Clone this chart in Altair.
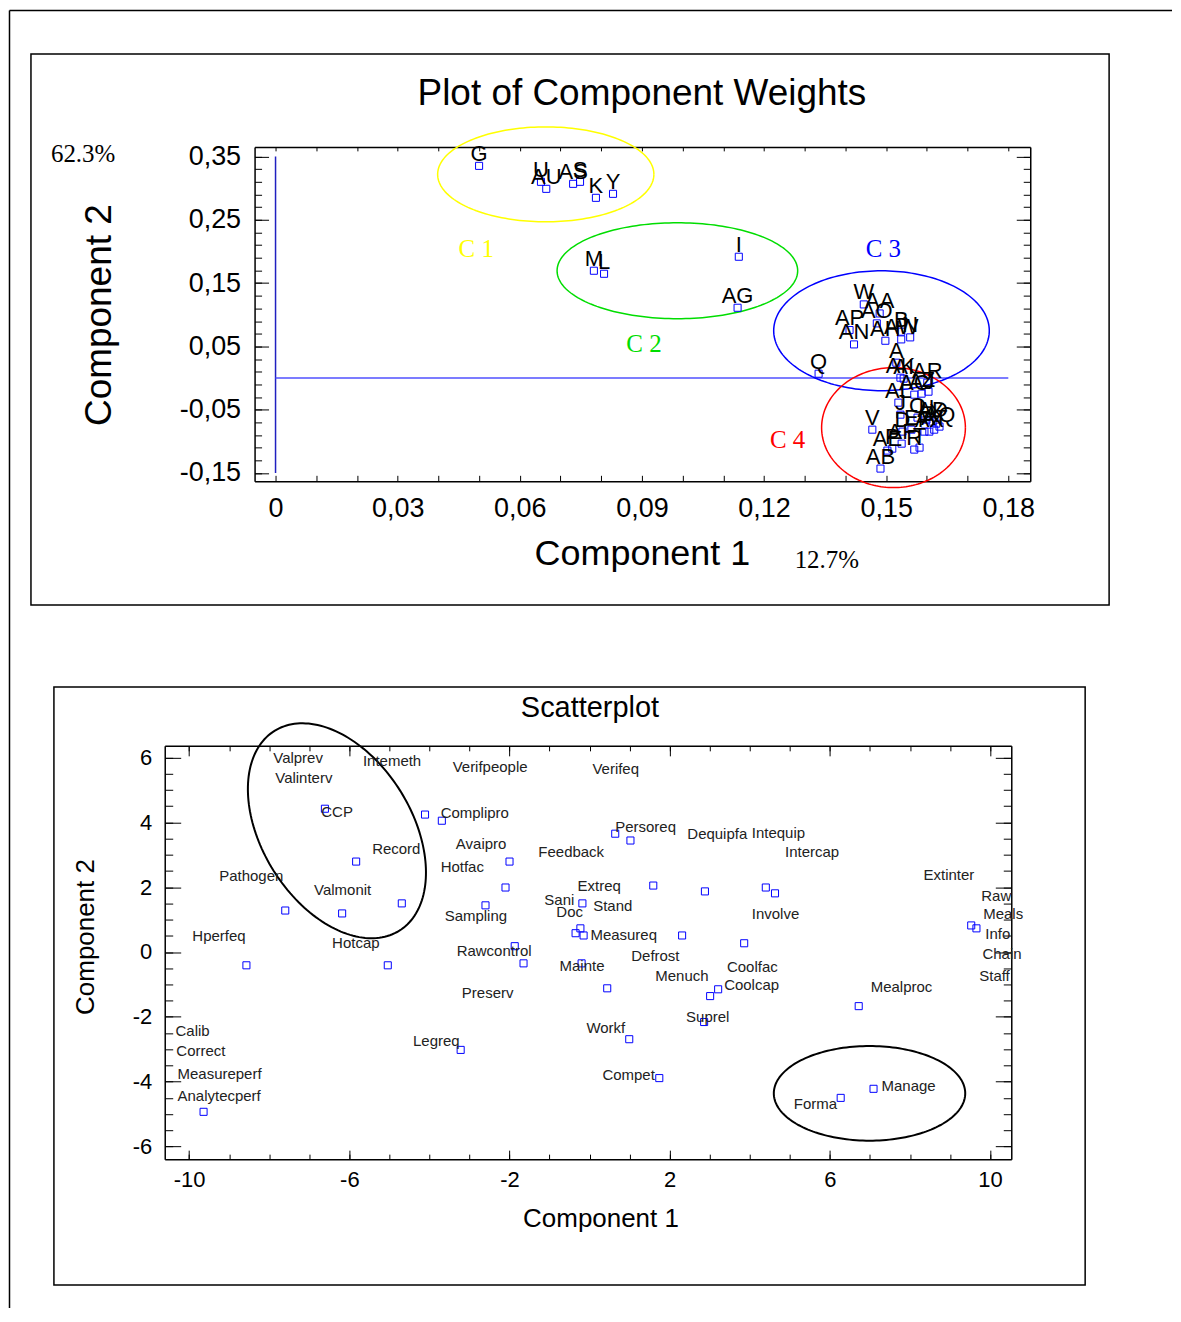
import numpy as np
import pandas as pd
import altair as alt

SANS = "Liberation Sans"
SERIF = "Liberation Serif"
BLUE = "#0000ff"

# ---------------- Plot of Component Weights (top) ----------------
w_names = ["G", "U", "AU", "AS", "S", "K", "Y", "M", "L", "I", "AG", "Q",
           "W", "AA", "AO", "AP", "AN", "AH", "B", "AW", "N",
           "A", "AK", "AI", "AR", "AL", "AC", "AJ", "Z", "J", "O", "H", "AD", "X", "AQ",
           "D", "E", "F", "AX", "AT", "V", "AF", "AE", "P", "R", "T", "AB"]
w_comp1 = [0.0500, 0.0652, 0.0665, 0.0731, 0.0748, 0.0787, 0.0829, 0.0782, 0.0807, 0.1138, 0.1135, 0.1334,
           0.1445, 0.1484, 0.1477, 0.1410, 0.1421, 0.1498, 0.1537, 0.1537, 0.1559,
           0.1525, 0.1535, 0.1543, 0.1601, 0.1530, 0.1569, 0.1587, 0.1604, 0.1535, 0.1577, 0.1599, 0.1614, 0.1623, 0.1631,
           0.1540, 0.1562, 0.1594, 0.1606, 0.1618, 0.1466, 0.1538, 0.1503, 0.1515, 0.1569, 0.1582, 0.1486]
w_comp2 = [0.3353, 0.3101, 0.2990, 0.3069, 0.3101, 0.2848, 0.2911, 0.1696, 0.1648, 0.1917, 0.1111, 0.0069,
           0.1164, 0.1021, 0.0864, 0.0759, 0.0532, 0.0590, 0.0733, 0.0611, 0.0643,
           0.0243, 0.0006, -0.0009, -0.0073, -0.0388, -0.0262, -0.0246, -0.0215, -0.0578, -0.0625, -0.0657, -0.0688, -0.0720, -0.0767,
           -0.0846, -0.0815, -0.0846, -0.0846, -0.0815, -0.0815, -0.1036, -0.1146, -0.1115, -0.1130, -0.1099, -0.1430]

cl_names = ["C 1", "C 2", "C 3", "C 4"]
cl_colors = ["#ffff00", "#00dd00", "#0000ff", "#ff0000"]
cl_label_x = [0.0493, 0.0905, 0.1493, 0.1258]
cl_label_y = [0.2043, 0.0543, 0.2043, -0.0973]
cl_cx = [0.06638, 0.09871, 0.14885, 0.1518]
cl_cy = [0.3219, 0.1696, 0.0748, -0.0783]
cl_rx = [0.02656, 0.02955, 0.02648, 0.01766]
cl_ry = [0.0750, 0.0758, 0.0947, 0.0947]

top_x_ticks = [0, 0.03, 0.06, 0.09, 0.12, 0.15, 0.18]
top_y_ticks = [-0.15, -0.05, 0.05, 0.15, 0.25, 0.35]
top_x_minor = [round(0.01 * i, 2) for i in range(19)]
top_y_minor = [round(-0.15 + 0.02 * i, 2) for i in range(26)]

# ---------------- Scatterplot (bottom) ----------------
s_comp1 = [-6.61, -4.11, -3.69, -5.83, -2.00, -2.10, -4.69, -2.60, -7.60, -6.18,
           -8.57, -5.04, -1.87, -1.65, 0.64, 1.02, 1.59, 2.88, 4.40, 4.63,
           -0.18, -0.23, -0.35, -0.15, -0.20, 2.31, 3.86, 0.44, 3.01, 3.21,
           2.86, 0.99, 1.74, -3.22, -9.64, 6.72, 6.27, 7.09, 9.53, 9.66]
s_comp2 = [4.42, 4.24, 4.05, 2.79, 2.79, 1.99, 1.50, 1.44, 1.28, 1.19,
           -0.41, -0.41, 0.18, -0.35, 3.65, 3.44, 2.05, 1.87, 1.99, 1.81,
           1.50, 0.73, 0.58, 0.51, -0.35, 0.51, 0.27, -1.12, -1.36, -1.15,
           -2.16, -2.69, -3.89, -3.02, -4.93, -1.67, -4.50, -4.22, 0.82, 0.73]

lab_names = ["Valprev", "Valinterv", "Intemeth", "Verifpeople", "Verifeq", "CCP", "Complipro",
             "Persoreq", "Dequipfa", "Intequip", "Record", "Avaipro", "Feedback", "Intercap",
             "Hotfac", "Pathogen", "Extinter", "Extreq", "Valmonit", "Raw", "Sani", "Stand",
             "Doc", "Involve", "Sampling", "Meals", "Info", "Hperfeq", "Measureq", "Hotcap",
             "Rawcontrol", "Chain", "Defrost", "Coolfac", "Mainte", "Menuch", "Staff", "Coolcap",
             "Mealproc", "Preserv", "Suprel", "Calib", "Workf", "Legreq", "Correct", "Compet",
             "Measureperf", "Manage", "Analytecperf", "Forma"]
lab_x = [-7.90, -7.85, -5.66, -3.42, 0.07, -6.70, -3.72,
         0.64, 2.44, 4.05, -5.43, -3.34, -1.28, 4.88,
         -3.72, -9.25, 8.34, -0.30, -6.88, 9.78, -1.13, 0.09,
         -0.83, 4.05, -3.62, 9.83, 9.88, -9.92, 0.02, -6.43,
         -3.32, 9.81, 1.04, 3.43, -0.75, 1.64, 9.73, 3.36,
         7.02, -3.19, 2.41, -10.34, -0.08, -4.41, -10.32, 0.32,
         -10.29, 7.29, -10.29, 5.10]
lab_y = [5.99, 5.38, 5.90, 5.71, 5.65, 4.33, 4.30,
         3.87, 3.65, 3.68, 3.19, 3.34, 3.10, 3.07,
         2.61, 2.36, 2.39, 2.05, 1.90, 1.74, 1.59, 1.41,
         1.22, 1.16, 1.10, 1.16, 0.54, 0.48, 0.51, 0.27,
         0.02, -0.07, -0.13, -0.47, -0.44, -0.75, -0.75, -1.02,
         -1.09, -1.27, -2.01, -2.44, -2.35, -2.75, -3.06, -3.79,
         -3.76, -4.13, -4.44, -4.69]

bot_x_ticks = [-10, -6, -2, 2, 6, 10]
bot_y_ticks = [-6, -4, -2, 0, 2, 4, 6]
bot_x_minor = list(range(-10, 11))
bot_y_minor = [-6 + 0.5 * i for i in range(25)]

# ---------------- geometry ----------------
TW, TH = 867, 335          # top panel area (plot frame spans x 90..867)
TX0 = 90
BW, BH = 848, 414
top_xdom = [-0.00515, 0.18539]
top_ydom = [-0.1631, 0.3653]
bot_xdom = [-10.61, 10.53]
bot_ydom = [-6.39, 6.36]

xs_top = alt.Scale(domain=top_xdom, range=[TX0, TW], zero=False, nice=False)
ys_top = alt.Scale(domain=top_ydom, zero=False, nice=False)
xs_bot = alt.Scale(domain=bot_xdom, zero=False, nice=False)
ys_bot = alt.Scale(domain=bot_ydom, zero=False, nice=False)


def ellipse(cx, cy, a_px, b_px, ang, kx, ky, n=181):
    t = np.linspace(0, 2 * np.pi, n)
    th = np.radians(ang)
    dxp = a_px * np.cos(t) * np.cos(th) - b_px * np.sin(t) * np.sin(th)
    dyp = a_px * np.cos(t) * np.sin(th) + b_px * np.sin(t) * np.cos(th)
    return cx + dxp / kx, cy - dyp / ky


def tick_axis(orient, offset, values, size, domain=False):
    return alt.Axis(orient=orient, offset=offset, values=values, tickSize=size,
                    tickColor="black", tickWidth=1, labels=False, domain=domain,
                    domainColor="black", domainWidth=1.5, grid=False, title=None)


def carriers(df, xf, yf, xs, ys, pairs):
    out = []
    for xa, ya in pairs:
        out.append(alt.Chart(df).mark_point(opacity=0).encode(
            x=alt.X(f"{xf}:Q", scale=xs, axis=xa),
            y=alt.Y(f"{yf}:Q", scale=ys, axis=ya)))
    return out


def txt(text, x, y, size, font=SANS, color="black", align="left", baseline="alphabetic"):
    return alt.Chart(pd.DataFrame({"t": [text]})).mark_text(
        align=align, baseline=baseline, font=font, fontSize=size, color=color
    ).encode(x=alt.value(x), y=alt.value(y), text="t:N")


def box(x1, x2, y1, y2, w=1.5):
    return alt.Chart(pd.DataFrame({"a": [0]})).mark_rect(
        filled=False, stroke="black", strokeWidth=w
    ).encode(x=alt.value(x1), x2=alt.value(x2), y=alt.value(y1), y2=alt.value(y2))


def hline(x1, x2, y, w=1.5):
    return alt.Chart(pd.DataFrame({"a": [0]})).mark_rule(color="black", strokeWidth=w).encode(
        x=alt.value(x1), x2=alt.value(x2), y=alt.value(y))


def vline(x, y1, y2, w=1.5):
    return alt.Chart(pd.DataFrame({"a": [0]})).mark_rule(color="black", strokeWidth=w).encode(
        x=alt.value(x), y=alt.value(y1), y2=alt.value(y2))


# ---------------- top chart ----------------
wdf = pd.DataFrame({"name": w_names, "c1": w_comp1, "c2": w_comp2})
kx_t = (TW - TX0) / (top_xdom[1] - top_xdom[0])
ky_t = TH / (top_ydom[1] - top_ydom[0])
rows = []
for nm, cx, cy, rx, ry in zip(cl_names, cl_cx, cl_cy, cl_rx, cl_ry):
    ex, ey = ellipse(cx, cy, rx * kx_t, ry * ky_t, 0, kx_t, ky_t)
    for i, (a, b) in enumerate(zip(ex, ey)):
        rows.append({"cl": nm, "i": i, "x": a, "y": b})
tell = pd.DataFrame(rows)
cl_df = pd.DataFrame({"cl": cl_names, "x": cl_label_x, "y": cl_label_y})
ccol = alt.Color("cl:N", scale=alt.Scale(domain=cl_names, range=cl_colors), legend=None)

vl_df = pd.DataFrame({"x": [0.0], "y": [-0.15], "y2": [0.35]})
hl_df = pd.DataFrame({"x": [0.0], "x2": [0.18], "y": [0.0]})

top_lab_expr = "datum.value == 0 ? '0' : (datum.value < 0 ? '-' : '') + replace(format(abs(datum.value), '.2f'), '.', ',')"

tX1 = alt.Axis(orient="bottom", values=top_x_ticks, labelExpr=top_lab_expr, ticks=False, tickSize=0,
               domain=True, domainColor="black", domainWidth=1.5, labelFont=SANS, labelFontSize=27,
               labelColor="black", labelPadding=14, labelFlush=False, labelOverlap=False, grid=False,
               title="Component 1", titleFont=SANS, titleFontSize=36, titleFontWeight="normal",
               titleColor="black", titleX=478, titleY=83, titleAlign="center", titleBaseline="alphabetic")
tY1 = alt.Axis(orient="left", offset=-TX0, values=top_y_ticks, labelExpr=top_lab_expr, ticks=False, tickSize=0,
               domain=True, domainColor="black", domainWidth=1.5, labelFont=SANS, labelFontSize=27,
               labelColor="black", labelPadding=14, labelFlush=False, labelOverlap=False, grid=False,
               title="Component 2", titleFont=SANS, titleFontSize=37, titleFontWeight="normal",
               titleColor="black", titleX=-155, titleY=168, titleAngle=270, titleAlign="center",
               titleBaseline="middle")
top_pairs = [
    (tX1, tY1),
    (tick_axis("top", -TH, top_x_minor, 6), tick_axis("right", TX0 - TW, top_y_ticks, 14)),
    (tick_axis("bottom", -TH, top_x_minor, 4, domain=True), tick_axis("right", TX0 - TW, top_y_minor, 7)),
    (None, tick_axis("left", -TW, top_y_ticks, 14, domain=True)),
    (None, tick_axis("left", -TW, top_y_minor, 7)),
]

top_layers = [
    hline(-155.5, 1009, -136.5),
    vline(-155.5, -136.5, 500),
    box(-134, 946, -93, 459),
    txt("Plot of Component Weights", 478, -42, 37, align="center"),
    txt("62.3%", -114, 15, 25, font=SERIF),
    txt("12.7%", 631, 422, 25, font=SERIF),
    alt.Chart(vl_df).mark_rule(color="#2020c0", strokeWidth=1.5).encode(
        x=alt.X("x:Q", scale=xs_top, axis=None), y=alt.Y("y:Q", scale=ys_top, axis=None), y2="y2:Q"),
    alt.Chart(hl_df).mark_rule(color="#5050ff", strokeWidth=1.5).encode(
        x=alt.X("x:Q", scale=xs_top, axis=None), x2="x2:Q", y=alt.Y("y:Q", scale=ys_top, axis=None)),
    alt.Chart(tell).mark_line(strokeWidth=1.5).encode(
        x=alt.X("x:Q", scale=xs_top, axis=None), y=alt.Y("y:Q", scale=ys_top, axis=None),
        color=ccol, detail="cl:N", order="i:Q"),
    alt.Chart(cl_df).mark_text(font=SERIF, fontSize=25, align="center", baseline="middle").encode(
        x=alt.X("x:Q", scale=xs_top, axis=None), y=alt.Y("y:Q", scale=ys_top, axis=None),
        text="cl:N", color=ccol),
    alt.Chart(wdf).mark_point(shape="square", size=50, filled=False, color=BLUE, strokeWidth=1, opacity=1).encode(
        x=alt.X("c1:Q", scale=xs_top, axis=None), y=alt.Y("c2:Q", scale=ys_top, axis=None)),
    alt.Chart(wdf).mark_text(font=SANS, fontSize=22, align="center", baseline="alphabetic", dy=-5, color="black").encode(
        x=alt.X("c1:Q", scale=xs_top, axis=None), y=alt.Y("c2:Q", scale=ys_top, axis=None), text="name:N"),
] + carriers(wdf, "c1", "c2", xs_top, ys_top, top_pairs)

top = alt.layer(*top_layers).resolve_axis(x="independent", y="independent").properties(width=TW, height=TH)

# ---------------- bottom chart ----------------
sdf = pd.DataFrame({"c1": s_comp1, "c2": s_comp2})
ldf = pd.DataFrame({"name": lab_names, "lx": lab_x, "ly": lab_y})
kx_b = BW / (bot_xdom[1] - bot_xdom[0])
ky_b = BH / (bot_ydom[1] - bot_ydom[0])
rows = []
for nm, (cx, cy, a, b, ang) in {"e1": (-6.31, 3.74, 118, 75, 58),
                               "e2": (6.99, -4.36, 2.39 * kx_b, 1.46 * ky_b, 0)}.items():
    ex, ey = ellipse(cx, cy, a, b, ang, kx_b, ky_b)
    for i, (u, v) in enumerate(zip(ex, ey)):
        rows.append({"e": nm, "i": i, "x": u, "y": v})
bell = pd.DataFrame(rows)

bot_lab_expr = "(datum.value < 0 ? '-' : '') + format(abs(datum.value), 'd')"
bX1 = alt.Axis(orient="bottom", values=bot_x_ticks, labelExpr=bot_lab_expr, ticks=False, tickSize=0,
               domain=True, domainColor="black", domainWidth=1.5, labelFont=SANS, labelFontSize=22,
               labelColor="black", labelPadding=10, labelFlush=False, labelOverlap=False, grid=False,
               title="Component 1", titleFont=SANS, titleFontSize=26, titleFontWeight="normal",
               titleColor="black", titleX=436.5, titleY=67, titleAlign="center", titleBaseline="alphabetic")
bY1 = alt.Axis(orient="left", values=bot_y_ticks, labelExpr=bot_lab_expr, ticks=False, tickSize=0,
               domain=True, domainColor="black", domainWidth=1.5, labelFont=SANS, labelFontSize=22,
               labelColor="black", labelPadding=13, labelFlush=False, labelOverlap=False, grid=False,
               title="Component 2", titleFont=SANS, titleFontSize=26, titleFontWeight="normal",
               titleColor="black", titleX=-79, titleY=191, titleAngle=270, titleAlign="center",
               titleBaseline="middle")
bot_pairs = [
    (bX1, bY1),
    (tick_axis("top", -BH, bot_x_ticks, 9), tick_axis("right", -BW, bot_y_ticks, 16)),
    (tick_axis("top", -BH, bot_x_minor, 5), tick_axis("right", -BW, bot_y_minor, 8)),
    (tick_axis("bottom", -BH, bot_x_ticks, 10, domain=True), tick_axis("left", -BW, bot_y_ticks, 16, domain=True)),
    (tick_axis("bottom", -BH, bot_x_minor, 5), tick_axis("left", -BW, bot_y_minor, 8)),
]

bot_layers = [
    vline(-155.5, -100, 563),
    box(-111, 922, -59, 540),
    txt("Scatterplot", 426, -29, 29, align="center"),
    alt.Chart(bell).mark_line(color="black", strokeWidth=2).encode(
        x=alt.X("x:Q", scale=xs_bot, axis=None), y=alt.Y("y:Q", scale=ys_bot, axis=None),
        detail="e:N", order="i:Q"),
    alt.Chart(sdf).mark_point(shape="square", size=50, filled=False, color=BLUE, strokeWidth=1, opacity=1).encode(
        x=alt.X("c1:Q", scale=xs_bot, axis=None), y=alt.Y("c2:Q", scale=ys_bot, axis=None)),
    alt.Chart(ldf).mark_text(font=SANS, fontSize=15, align="left", baseline="middle", color="#222222").encode(
        x=alt.X("lx:Q", scale=xs_bot, axis=None), y=alt.Y("ly:Q", scale=ys_bot, axis=None), text="name:N"),
] + carriers(sdf, "c1", "c2", xs_bot, ys_bot, bot_pairs)

bottom = alt.layer(*bot_layers).resolve_axis(x="independent", y="independent").properties(width=BW, height=BH)

chart = alt.vconcat(top, bottom, spacing=-2).properties(padding=0).configure_view(strokeWidth=0)

chart.save("out.html", embed_options={"renderer": "svg", "actions": False})
